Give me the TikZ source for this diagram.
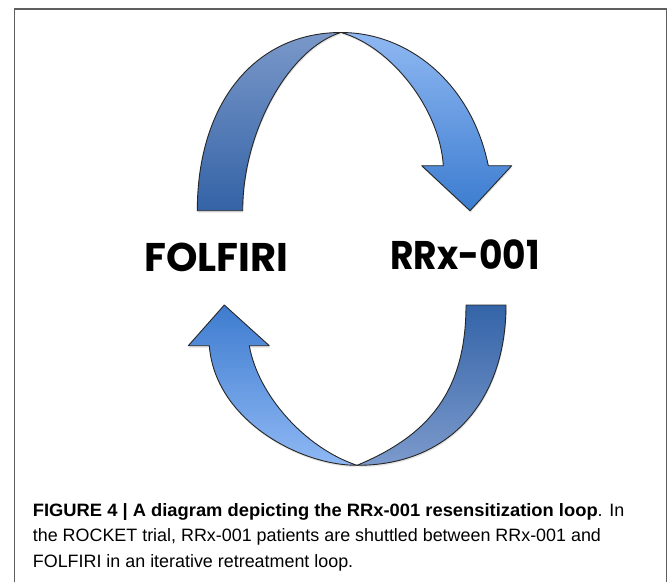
\documentclass[tikz,border=0pt]{standalone}
\usepackage{fontspec}
\setmainfont{Liberation Sans}
\newfontfamily\labfont{Poppins}
\newfontfamily\labfontn{Poppins}[FakeStretch=0.9]
\newfontfamily\capbold{Liberation Sans}[FakeStretch=1.025]
\usetikzlibrary{shadows}
\definecolor{tlTop}{RGB}{122,152,201}
\definecolor{tlBot}{RGB}{52,99,166}
\definecolor{trTop}{RGB}{143,184,242}
\definecolor{trBot}{RGB}{60,124,208}
\definecolor{blTop}{RGB}{62,124,207}
\definecolor{blBot}{RGB}{143,184,244}
\definecolor{brTop}{RGB}{52,100,168}
\definecolor{brBot}{RGB}{124,154,204}
\definecolor{framecol}{RGB}{95,95,95}
\begin{document}
\begin{tikzpicture}[x=1pt,y=-1pt,
  ribbon/.style={draw=black!85, line width=0.9pt, line join=round,
    drop shadow={shadow xshift=0.6pt, shadow yshift=-1.8pt, opacity=0.22}},
  lab/.style={font=\labfont\bfseries\fontsize{40}{40}\selectfont, anchor=base, inner sep=0pt},
  labn/.style={font=\labfontn\bfseries\fontsize{40}{40}\selectfont, anchor=base, inner sep=0pt},
  captext/.style={font=\fontsize{17.9}{20}\selectfont, anchor=base west, inner sep=0pt}]
\useasboundingbox (0,0) rectangle (668,581);
\fill[white] (0,0) rectangle (668,581);
% frame
\draw[framecol, line width=1.3pt] (14.7,585) -- (14.7,9) -- (666.7,9) -- (666.7,585);
% key points
\coordinate (xtop) at (341,32.5);
\coordinate (xbot) at (357,465.3);
% top arrow, left half
\path[ribbon, top color=tlTop, bottom color=tlBot]
  (197.3,210.7) .. controls (197.3,103) and (255,32.5) .. (xtop)
  .. controls (290,48) and (242.7,130) .. (242.7,210.7) -- cycle;
% top arrow, right half
\path[ribbon, top color=trTop, bottom color=trBot]
  (xtop) .. controls (410,32.5) and (472,85) .. (488.3,165.7)
  -- (511.7,165.7) -- (470,210.7) -- (421.7,165.7) -- (443.3,165.7)
  .. controls (440,110) and (392,47) .. (xtop) -- cycle;
% bottom arrow, left half (head)
\path[ribbon, top color=blTop, bottom color=blBot]
  (224.3,305) -- (269.3,345.7) -- (249.3,345.7)
  .. controls (258,395) and (305,448) .. (xbot)
  .. controls (300,465.5) and (215,420) .. (209.3,345.7)
  -- (188.3,345.7) -- cycle;
% bottom arrow, right half (tail)
\path[ribbon, top color=brTop, bottom color=brBot]
  (466,305) -- (506,305)
  .. controls (506,400) and (450,465.5) .. (xbot)
  .. controls (430,435) and (466,390) .. (466,305) -- cycle;
% labels
\node[lab] (folfiri) at (216.5,271) {FOLFIRI};
\node[labn] (rrx) at (465,269) {RRx-001};
% caption
\node[captext] (cap1) at (32.7,516.7) {{\capbold\bfseries FIGURE 4 | A diagram depicting the RRx-001 resensitization loop}. In};
\node[captext] (cap2) at (32.7,541.7) {the ROCKET trial, RRx-001 patients are shuttled between RRx-001 and};
\node[captext] (cap3) at (32.7,567.7) {FOLFIRI in an iterative retreatment loop.};
\end{tikzpicture}
\end{document}
